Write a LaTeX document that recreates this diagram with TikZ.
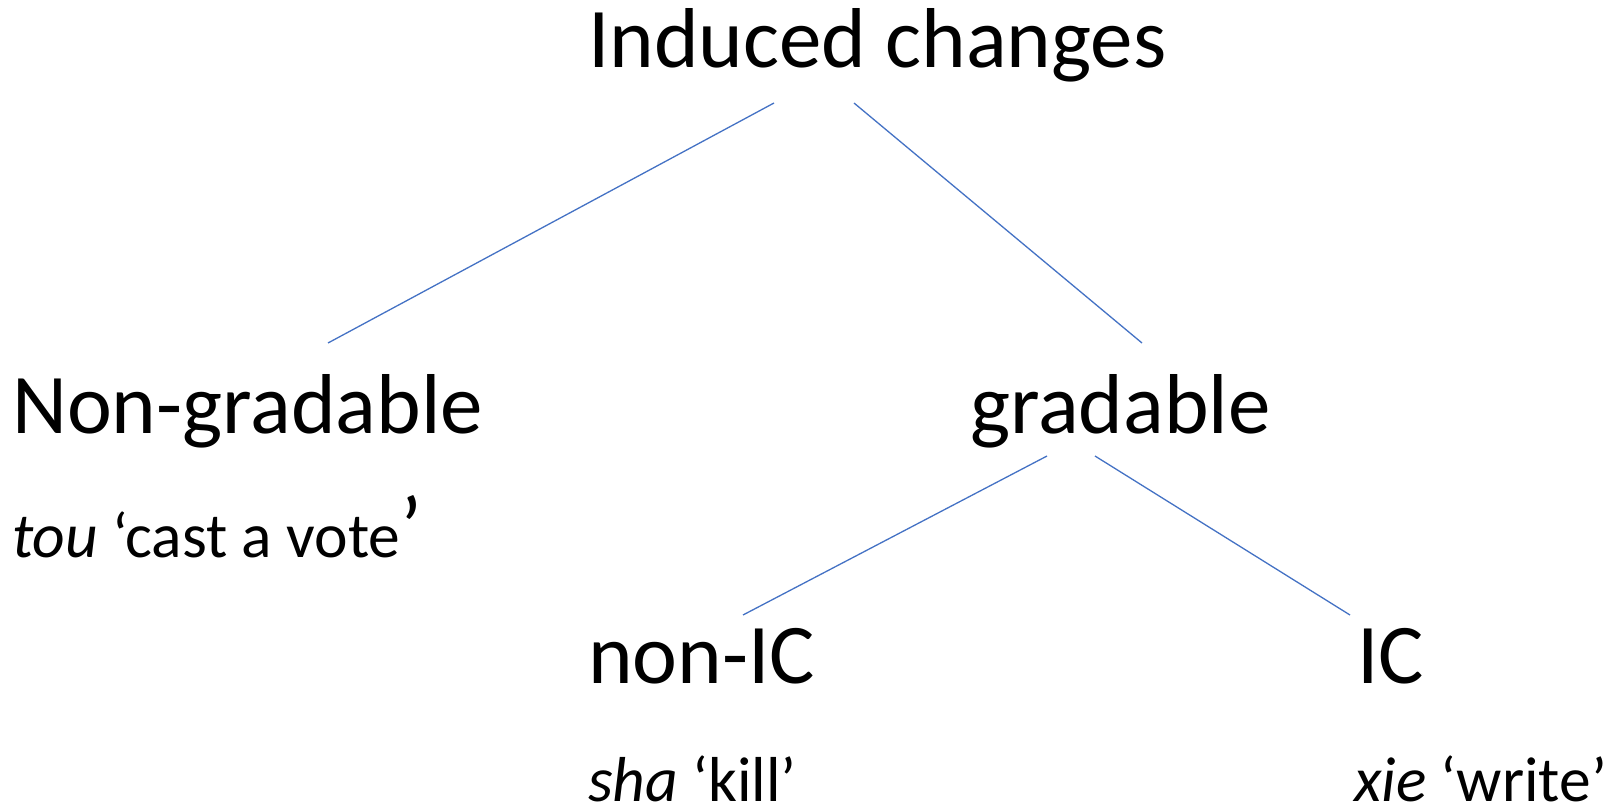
\documentclass[tikz,border=0pt]{standalone}
\usepackage{fontspec}
\setmainfont{Carlito}
\definecolor{linkblue}{HTML}{4472C4}
\begin{document}
\begin{tikzpicture}[x=1pt,y=-1pt,
  big/.style={anchor=base west,inner sep=0pt,font=\fontsize{85}{95}\selectfont},
  small/.style={anchor=base west,inner sep=0pt,font=\fontsize{63.5}{70}\selectfont},
  link/.style={draw=linkblue,line width=1.3pt}]
\useasboundingbox (0,0) rectangle (1618,806);
\node[big] (root) at (588,67) {Induced changes};
\node[big] (ng) at (12,433) {Non-gradable};
\node[big] (gr) at (970,433) {gradable};
\node[big] (nic) at (588,683) {non-IC};
\node[big] (ic) at (1357,683) {IC};
\node[small] (ex1) at (12,557) {\textit{tou} ‘cast a vote{\fontsize{88}{90}\selectfont’}};
\node[small] (ex2) at (588,801) {\textit{sha} ‘kill’};
\node[small] (ex3) at (1354,801) {\textit{xie} ‘write’};
\coordinate (r1) at (774,103);
\coordinate (r2) at (854,103);
\coordinate (n1) at (328,343);
\coordinate (g1) at (1142,343);
\coordinate (g2) at (1047,456);
\coordinate (g3) at (1095,456);
\coordinate (c1) at (743,615);
\coordinate (c2) at (1350,615);
\draw[link] (r1) -- (n1);
\draw[link] (r2) -- (g1);
\draw[link] (g2) -- (c1);
\draw[link] (g3) -- (c2);
\end{tikzpicture}
\end{document}
